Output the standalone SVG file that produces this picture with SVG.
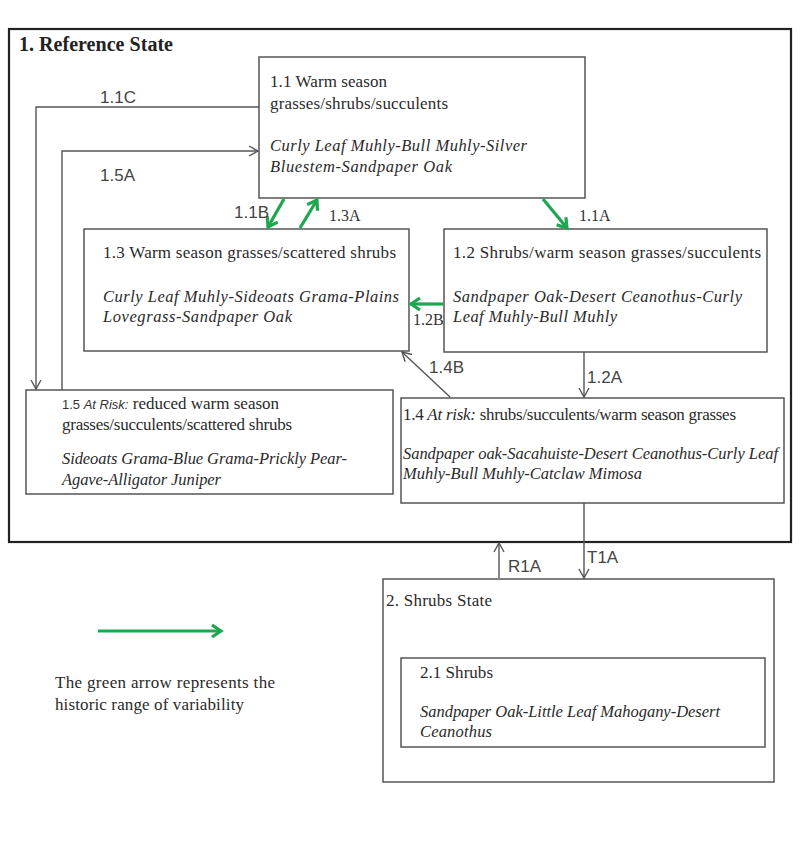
<svg xmlns="http://www.w3.org/2000/svg" width="800" height="853" viewBox="0 0 800 853">
<style>
.box{fill:#fff;stroke:#555;stroke-width:1.5}
.outer{fill:#fff;stroke:#222;stroke-width:2.2}
.t{font-family:"Liberation Serif","Times New Roman",serif;font-size:17px;fill:#2a2a2a}
.i{font-family:"Liberation Serif","Times New Roman",serif;font-size:16.5px;font-style:italic;fill:#2a2a2a}
.title{font-family:"Liberation Serif","Times New Roman",serif;font-size:20px;font-weight:bold;fill:#222}
.lbl{font-family:"Liberation Sans",Arial,sans-serif;font-size:17px;fill:#444}
.lbls{font-family:"Liberation Serif","Times New Roman",serif;font-size:16px;fill:#333}
.sm{font-family:"Liberation Sans",Arial,sans-serif;font-size:13px;fill:#333}
.c{fill:none;stroke:#555;stroke-width:1.4}
.g{fill:none;stroke:#1ea650;stroke-width:3.2}
</style>
<defs>
<marker id="ah" markerUnits="userSpaceOnUse" markerWidth="14" markerHeight="14" viewBox="0 0 14 14" refX="12" refY="7" orient="auto">
<path d="M3,2 L12,7 L3,12" fill="none" stroke="#555" stroke-width="1.4"/>
</marker>
<marker id="gh" markerUnits="userSpaceOnUse" markerWidth="16" markerHeight="16" viewBox="0 0 16 16" refX="13" refY="8" orient="auto">
<path d="M4,2 L13,8 L4,14" fill="none" stroke="#1ea650" stroke-width="3.2"/>
</marker>
</defs>
<rect width="800" height="853" fill="#fff"/>

<g id="state1">
<rect class="outer" x="9" y="29" width="782" height="513"/>
<text class="title" x="19" y="51" textLength="154" lengthAdjust="spacing">1. Reference State</text>
</g>

<g id="node-1-1">
<rect class="box" x="259" y="57" width="326" height="141"/>
<text class="t" x="270" y="87" textLength="117" lengthAdjust="spacing">1.1 Warm season</text>
<text class="t" x="270" y="109" textLength="178" lengthAdjust="spacing">grasses/shrubs/succulents</text>
<text class="i" x="270" y="151" textLength="257" lengthAdjust="spacing">Curly Leaf Muhly-Bull  Muhly-Silver</text>
<text class="i" x="270" y="172" textLength="182" lengthAdjust="spacing">Bluestem-Sandpaper Oak</text>
</g>

<g id="node-1-3">
<rect class="box" x="84" y="229" width="325" height="122"/>
<text class="t" x="103" y="258" textLength="293" lengthAdjust="spacing">1.3 Warm season grasses/scattered shrubs</text>
<text class="i" x="103" y="302" textLength="296" lengthAdjust="spacing">Curly Leaf Muhly-Sideoats Grama-Plains</text>
<text class="i" x="103" y="322" textLength="189" lengthAdjust="spacing">Lovegrass-Sandpaper Oak</text>
</g>

<g id="node-1-2">
<rect class="box" x="444" y="229" width="323" height="123"/>
<text class="t" x="453" y="258" textLength="308" lengthAdjust="spacing">1.2 Shrubs/warm season grasses/succulents</text>
<text class="i" x="453" y="302" textLength="289" lengthAdjust="spacing">Sandpaper Oak-Desert Ceanothus-Curly</text>
<text class="i" x="453" y="322" textLength="164" lengthAdjust="spacing">Leaf Muhly-Bull Muhly</text>
</g>

<g id="node-1-5">
<rect class="box" x="26" y="390" width="367" height="104"/>
<text x="62" y="409"><tspan class="sm">1.5 </tspan><tspan class="sm" font-style="italic">At Risk:</tspan><tspan class="t"> reduced warm season</tspan></text>
<text class="t" x="62" y="430" textLength="230" lengthAdjust="spacing">grasses/succulents/scattered shrubs</text>
<text class="i" x="62" y="464" textLength="285" lengthAdjust="spacing">Sideoats Grama-Blue Grama-Prickly Pear-</text>
<text class="i" x="62" y="485" textLength="159" lengthAdjust="spacing">Agave-Alligator Juniper</text>
</g>

<g id="node-1-4">
<rect class="box" x="401" y="398" width="383" height="105"/>
<text class="t" x="403" y="420" textLength="333" lengthAdjust="spacing">1.4 <tspan font-style="italic">At risk:</tspan> shrubs/succulents/warm season grasses</text>
<text class="i" x="403" y="459" textLength="375" lengthAdjust="spacing">Sandpaper oak-Sacahuiste-Desert Ceanothus-Curly Leaf</text>
<text class="i" x="403" y="479" textLength="239" lengthAdjust="spacing">Muhly-Bull Muhly-Catclaw Mimosa</text>
</g>

<g id="state2">
<rect class="box" x="383" y="579" width="391" height="203"/>
<text class="t" x="386" y="606" textLength="106" lengthAdjust="spacing">2. Shrubs State</text>
</g>

<g id="node-2-1">
<rect class="box" x="401" y="658" width="364" height="89"/>
<text class="t" x="420" y="678" textLength="73" lengthAdjust="spacing">2.1 Shrubs</text>
<text class="i" x="420" y="717" textLength="300" lengthAdjust="spacing">Sandpaper Oak-Little Leaf Mahogany-Desert</text>
<text class="i" x="420" y="737" textLength="72" lengthAdjust="spacing">Ceanothus</text>
</g>

<g id="connectors">
<polyline class="c" points="259,107 36,107 36,389" marker-end="url(#ah)"/>
<polyline class="c" points="62,390 62,151 258,151" marker-end="url(#ah)"/>
<line class="g" x1="284" y1="199" x2="268" y2="227" marker-end="url(#gh)"/>
<line class="g" x1="300" y1="228" x2="317" y2="200" marker-end="url(#gh)"/>
<line class="g" x1="543" y1="199" x2="567" y2="228" marker-end="url(#gh)"/>
<line class="g" x1="443" y1="304" x2="411" y2="304" marker-end="url(#gh)"/>
<line class="c" x1="584" y1="352" x2="584" y2="397" marker-end="url(#ah)"/>
<line class="c" x1="450" y1="397" x2="402" y2="352" marker-end="url(#ah)"/>
<line class="c" x1="584" y1="503" x2="584" y2="578" marker-end="url(#ah)"/>
<line class="c" x1="499" y1="578" x2="499" y2="543" marker-end="url(#ah)"/>
<text class="lbl" x="100" y="103">1.1C</text>
<text class="lbl" x="100" y="181">1.5A</text>
<text class="lbl" x="234" y="218">1.1B</text>
<text class="lbls" x="329" y="221">1.3A</text>
<text class="lbls" x="579" y="221">1.1A</text>
<text class="lbls" x="413" y="325" font-size="15">1.2B</text>
<text class="lbl" x="429" y="373">1.4B</text>
<text class="lbl" x="587" y="383">1.2A</text>
<text class="lbl" x="587" y="563">T1A</text>
<text class="lbl" x="508" y="572">R1A</text>
</g>

<g id="legend">
<line class="g" x1="98" y1="631" x2="221" y2="631" marker-end="url(#gh)"/>
<text class="t" x="55" y="688" textLength="220" lengthAdjust="spacing">The green arrow represents the</text>
<text class="t" x="55" y="710" textLength="189" lengthAdjust="spacing">historic range of variability</text>
</g>
</svg>
